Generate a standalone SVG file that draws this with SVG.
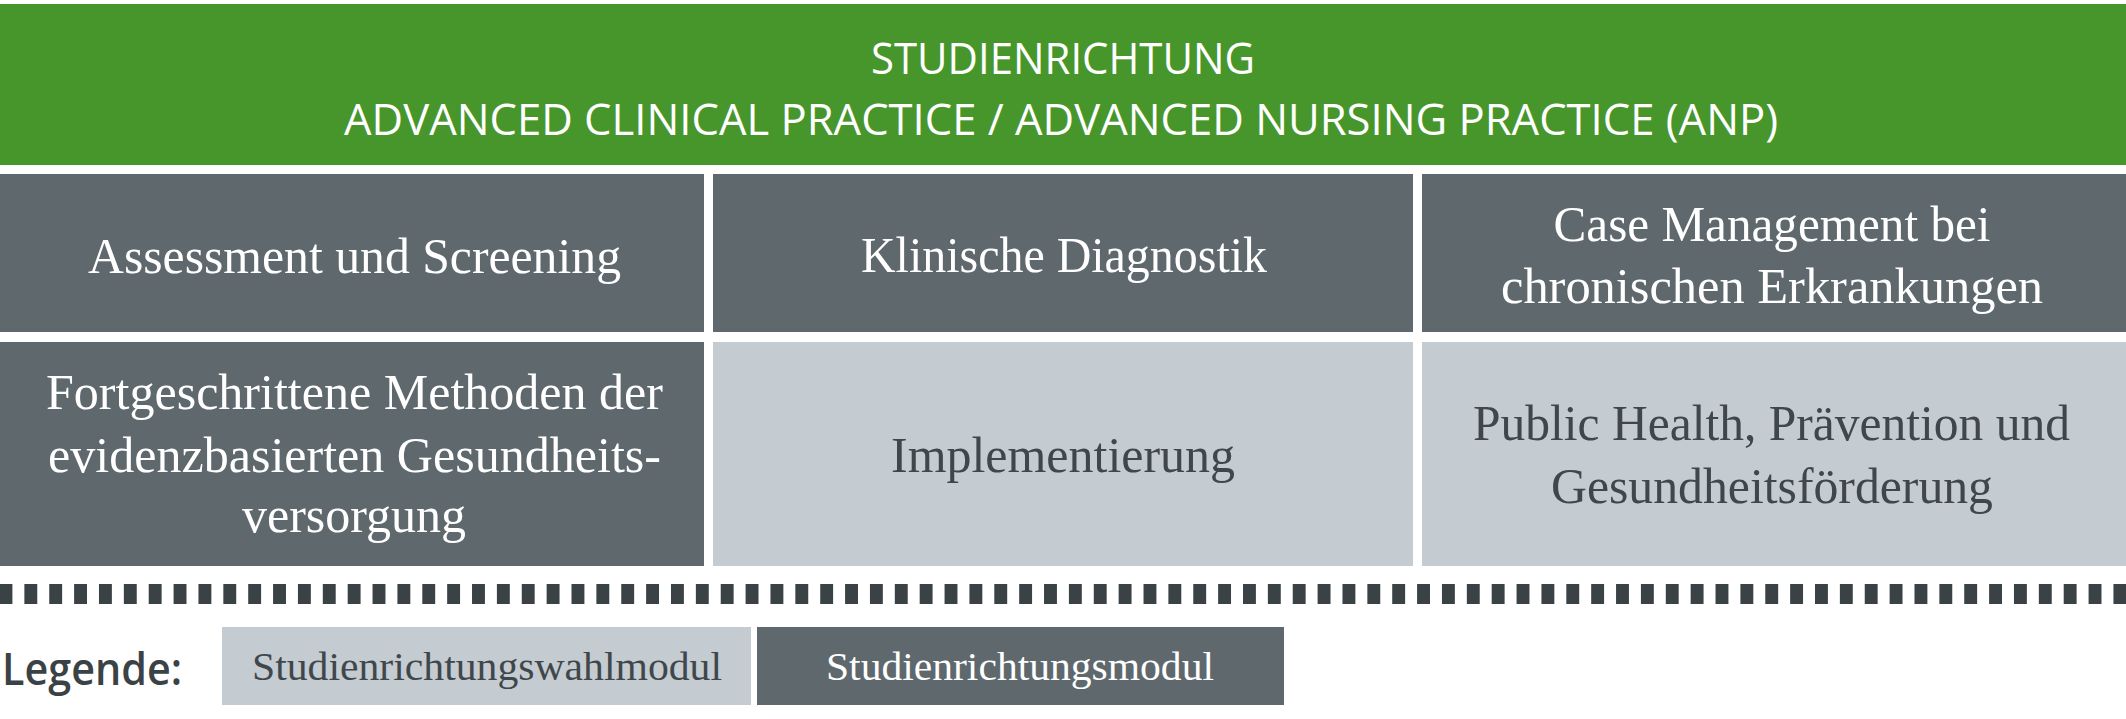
<svg xmlns="http://www.w3.org/2000/svg" width="2126" height="719" viewBox="0 0 2126 719">
<style>
.green{fill:#47962b}
.dark{fill:#5e686d}
.light{fill:#c4cbd1}
.title{font-family:"Open Sans","Liberation Sans",sans-serif;font-size:44px;fill:#ffffff;text-anchor:middle}
.lbl{font-family:"Liberation Serif","DejaVu Serif",serif;font-size:51px;text-anchor:middle}
.lg{font-family:"Liberation Serif","DejaVu Serif",serif;font-size:40px;text-anchor:middle}
.w{fill:#ffffff}
.k{fill:#40474b}
</style>
<rect x="0" y="0" width="2126" height="719" fill="#ffffff"/>
<g id="header">
<rect class="green" x="0" y="4" width="2126" height="161"/>
<text class="title" x="1063" y="74" textLength="384" lengthAdjust="spacingAndGlyphs">STUDIENRICHTUNG</text>
<text class="title" x="1061" y="135" textLength="1434" lengthAdjust="spacingAndGlyphs">ADVANCED CLINICAL PRACTICE / ADVANCED NURSING PRACTICE (ANP)</text>
</g>
<g id="assessment">
<rect class="dark" x="0" y="174" width="704" height="158"/>
<text class="lbl w" x="354.5" y="273" textLength="533" lengthAdjust="spacingAndGlyphs">Assessment und Screening</text>
</g>
<g id="diagnostik">
<rect class="dark" x="713" y="174" width="700" height="158"/>
<text class="lbl w" x="1064" y="272" textLength="406" lengthAdjust="spacingAndGlyphs">Klinische Diagnostik</text>
</g>
<g id="casemanagement">
<rect class="dark" x="1422" y="174" width="704" height="158"/>
<text class="lbl w" x="1772" y="241" textLength="437" lengthAdjust="spacingAndGlyphs">Case Management bei</text>
<text class="lbl w" x="1772" y="303" textLength="542" lengthAdjust="spacingAndGlyphs">chronischen Erkrankungen</text>
</g>
<g id="methoden">
<rect class="dark" x="0" y="342" width="704" height="224"/>
<text class="lbl w" x="354.5" y="409" textLength="617" lengthAdjust="spacingAndGlyphs">Fortgeschrittene Methoden der</text>
<text class="lbl w" x="354.5" y="472" textLength="613" lengthAdjust="spacingAndGlyphs">evidenzbasierten Gesundheits-</text>
<text class="lbl w" x="354" y="532" textLength="224" lengthAdjust="spacingAndGlyphs">versorgung</text>
</g>
<g id="implementierung">
<rect class="light" x="713" y="342" width="700" height="224"/>
<text class="lbl k" x="1063" y="472" textLength="344" lengthAdjust="spacingAndGlyphs">Implementierung</text>
</g>
<g id="publichealth">
<rect class="light" x="1422" y="342" width="704" height="224"/>
<text class="lbl k" x="1771.5" y="440" textLength="597" lengthAdjust="spacingAndGlyphs">Public Health, Prävention und</text>
<text class="lbl k" x="1772" y="503" textLength="442" lengthAdjust="spacingAndGlyphs">Gesundheitsförderung</text>
</g>
<line id="separator" x1="-0.5" y1="594" x2="2126" y2="594" stroke="#3b4246" stroke-width="20" stroke-dasharray="12.9 11.97"/>
<g id="legend">
<text x="2" y="685" font-family="'Open Sans','Liberation Sans',sans-serif" font-weight="600" font-size="46" fill="#3b4246" textLength="180" lengthAdjust="spacingAndGlyphs">Legende:</text>
<g id="legend-wahlmodul">
<rect class="light" x="222" y="627" width="529" height="78"/>
<text class="lg k" x="487" y="680" textLength="470" lengthAdjust="spacingAndGlyphs">Studienrichtungswahlmodul</text>
</g>
<g id="legend-modul">
<rect class="dark" x="757" y="627" width="527" height="78"/>
<text class="lg w" x="1020" y="680" textLength="388" lengthAdjust="spacingAndGlyphs">Studienrichtungsmodul</text>
</g>
</g>
</svg>
